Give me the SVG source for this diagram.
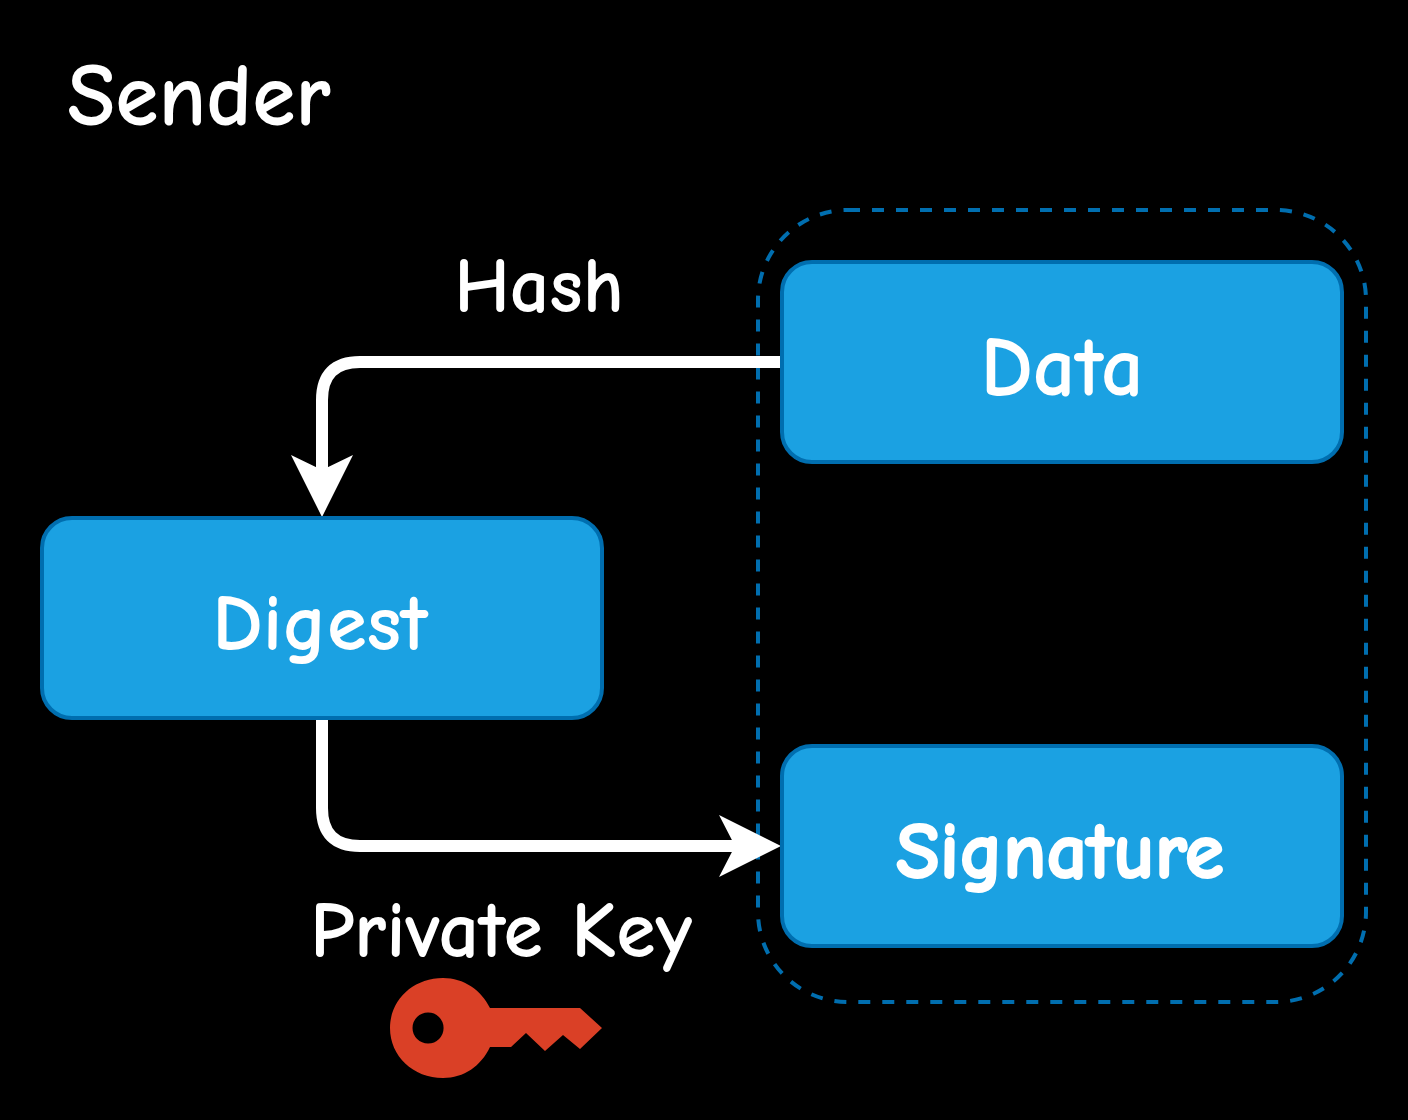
<svg xmlns="http://www.w3.org/2000/svg" width="1408" height="1120" viewBox="0 0 1408 1120">
<style>
.box{fill:#1ba1e2;stroke:#006eaf;stroke-width:4}
.t{font-family:"Comic Neue","DejaVu Sans",sans-serif;fill:#fff;text-anchor:middle;font-size:80px;font-weight:bold}
.c{fill:none;stroke:#fff;stroke-width:12}
</style>
<rect width="1408" height="1120" fill="#000"/>
<g id="group"><rect x="758" y="210" width="608" height="792" rx="90" fill="none" stroke="#006eaf" stroke-width="4" stroke-dasharray="12 12"/></g>
<g id="connectors">
<path class="c" d="M780 362H360Q322 362 322 400V470"/>
<path d="M322 517L291 455L322 470L353 455Z" fill="#fff"/>
<path class="c" d="M322 718V808Q322 846 360 846H735"/>
<path d="M781 846L719 877L735 846L719 815Z" fill="#fff"/>
</g>
<g id="data"><rect class="box" x="782" y="262" width="560" height="200" rx="30"/><text class="t" x="1062" y="395" style="font-size:84px">Data</text></g>
<g id="digest"><rect class="box" x="42" y="518" width="560" height="200" rx="30"/><text class="t" x="320" y="650" style="font-size:81px">Digest</text></g>
<g id="signature"><rect class="box" x="782" y="746" width="560" height="200" rx="30"/><text class="t" x="1060" y="878" stroke="#fff" stroke-width="2">Signature</text></g>
<text class="t" x="199" y="125" style="font-size:88px">Sender</text>
<text class="t" x="539" y="312" style="font-size:78px">Hash</text>
<text class="t" x="501" y="957">Private Key</text>
<g id="key"><path fill-rule="evenodd" fill="#da4026" d="M443 978C464 978 481 990 490 1008H580L602 1028L580 1049L563 1035L545 1051L526 1033L511 1047H490C481 1066 464 1078 443 1078C413 1078 390 1056 390 1028C390 1000 413 978 443 978ZM428 1012.500A15.500 15.500 0 1 0 428.100 1043.500A15.500 15.500 0 1 0 428 1012.500Z"/></g>
</svg>
